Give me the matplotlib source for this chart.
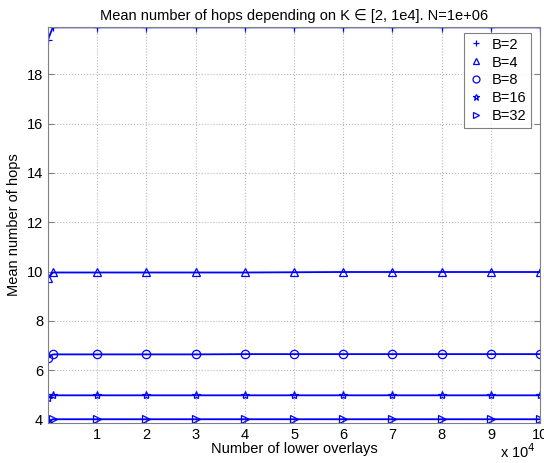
import numpy as np
import matplotlib
matplotlib.use("Agg")
import matplotlib.pyplot as plt

plt.rcParams['font.family'] = ['Liberation Sans', 'DejaVu Sans']

# number of lower overlays (K)
k_values = [2, 1000, 10000, 20000, 30000, 40000, 50000, 60000, 70000, 80000, 90000, 100000]

hops_b2 = [19.39, 19.9, 19.9, 19.9, 19.9, 19.9, 19.9, 19.9, 19.9, 19.9, 19.9, 19.9]
hops_b4 = [9.72, 9.96, 9.96, 9.96, 9.96, 9.96, 9.97, 9.98, 9.98, 9.98, 9.98, 9.98]
hops_b8 = [6.49, 6.64, 6.64, 6.64, 6.64, 6.65, 6.65, 6.65, 6.65, 6.65, 6.65, 6.65]
hops_b16 = [4.86, 4.98, 4.98, 4.98, 4.98, 4.98, 4.98, 4.98, 4.98, 4.98, 4.98, 4.98]
hops_b32 = [3.9, 4.01, 4.01, 4.01, 4.01, 4.01, 4.01, 4.01, 4.01, 4.01, 4.01, 4.01]

series = [("B=2", hops_b2, "+"), ("B=4", hops_b4, "^"), ("B=8", hops_b8, "o"),
          ("B=16", hops_b16, "*"), ("B=32", hops_b32, ">")]

fig = plt.figure(figsize=(5.44, 4.63), dpi=100)
ax = fig.add_axes([0.088, 0.086, 0.905, 0.856])

x = np.array(k_values) / 1e4
for label, vals, mk in series:
    ax.plot(x, vals, color="blue", linewidth=1.3, marker=mk, markersize=6,
            markerfacecolor="none", markeredgecolor="blue", markeredgewidth=0.9)
    # legend entries show the marker only
    ax.plot([], [], linestyle="none", marker=mk, markersize=5, markerfacecolor="none",
            markeredgecolor="blue", markeredgewidth=0.9, label=label)

ax.set_xlim(x[0], x[-1])
ax.set_ylim(3.85, 19.92)
ax.set_xticks(range(1, 11))
ax.set_yticks(range(4, 20, 2))
ax.grid(True, linestyle=":", color="#b8b8b8", linewidth=0.8)
ax.tick_params(direction="in", top=True, right=True, labelsize=10.5, length=4, color="#808080")
for s in ax.spines.values():
    s.set_color("#808080")

ax.set_title("Mean number of hops depending on K \u2208 [2, 1e4]. N=1e+06", fontsize=10.5, pad=5)
ax.set_xlabel("Number of lower overlays", fontsize=10.5, labelpad=0)
ax.set_ylabel("Mean number of hops", fontsize=10.5)
ax.text(0.99, -0.048, r"x 10$^4$", transform=ax.transAxes, ha="right", va="top", fontsize=10.5)

leg = ax.legend(loc="upper right", bbox_to_anchor=(0.99, 0.995), fontsize=10.5, fancybox=False,
                handlelength=1.0, labelspacing=0.27, borderpad=0.3, handletextpad=0.6,
                borderaxespad=0.3)
leg.get_frame().set_edgecolor("#606060")
leg.get_frame().set_linewidth(0.8)

fig.savefig("out.png", dpi=100)
